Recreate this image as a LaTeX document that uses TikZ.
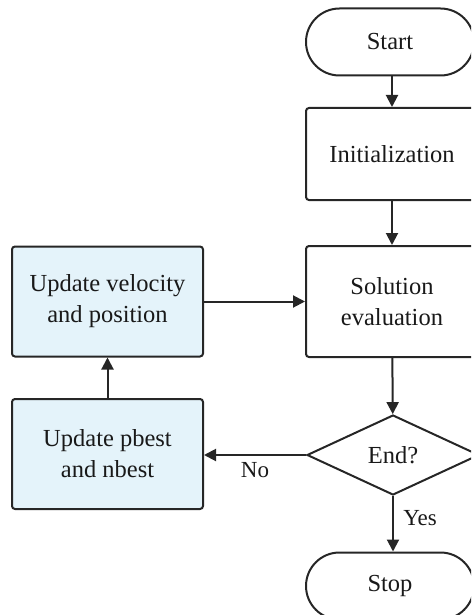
\documentclass[tikz,border=0pt]{standalone}
\usepackage{fontspec}
\setmainfont{Liberation Serif}
\usetikzlibrary{shapes.geometric,shapes.misc,arrows.meta}
\definecolor{lineg}{HTML}{262626}
\definecolor{boxblue}{HTML}{E4F3FA}
\begin{document}
\begin{tikzpicture}[x=1pt,y=-1pt,
  every node/.style={font=\fontsize{24.5}{31}\selectfont, text=black!90, align=center},
  proc/.style={draw=lineg, line width=2pt, rounded corners=3pt, minimum width=172pt, inner sep=0pt},
  upd/.style={proc, fill=boxblue, minimum width=191pt, minimum height=110pt},
  term/.style={draw=lineg, line width=2pt, rounded rectangle, minimum width=168pt, minimum height=67pt, inner sep=0pt},
  dec/.style={draw=lineg, line width=2pt, diamond, minimum width=172pt, minimum height=80pt, inner sep=0pt, aspect=2.15},
  conn/.style={draw=lineg, line width=2pt, -{Triangle[length=12pt,width=12pt]}},
  lbl/.style={font=\fontsize{23}{26}\selectfont}
]
\useasboundingbox (0,0) rectangle (471,615);
\clip (0,0) rectangle (471,615);
\node[term] (start) at (390,42) {Start};
\node[proc, minimum height=92pt] (init) at (392,154) {Initialization};
\node[proc, minimum height=111pt] (eval) at (392,301.5) {Solution\\evaluation};
\node[dec] (end) at (393,455) {End?};
\node[term] (stop) at (390,586) {Stop};
\node[upd] (vel) at (107.5,301.5) {Update velocity\\and position};
\node[upd] (pb) at (107.5,454) {Update pbest\\and nbest};
\draw[conn] (start.south -| init.north) -- (init.north);
\draw[conn] (init) -- (eval);
\draw[conn] (eval) -- (end);
\draw[conn] (end.south) -- node[lbl, right=6pt, pos=0.4] {Yes} (stop.north -| end.south);
\draw[conn] (end.west) -- node[lbl, below=3pt, pos=0.5] {No} (pb.east |- end.west);
\draw[conn] (pb) -- (vel);
\draw[conn] (vel) -- (eval);
\end{tikzpicture}
\end{document}
